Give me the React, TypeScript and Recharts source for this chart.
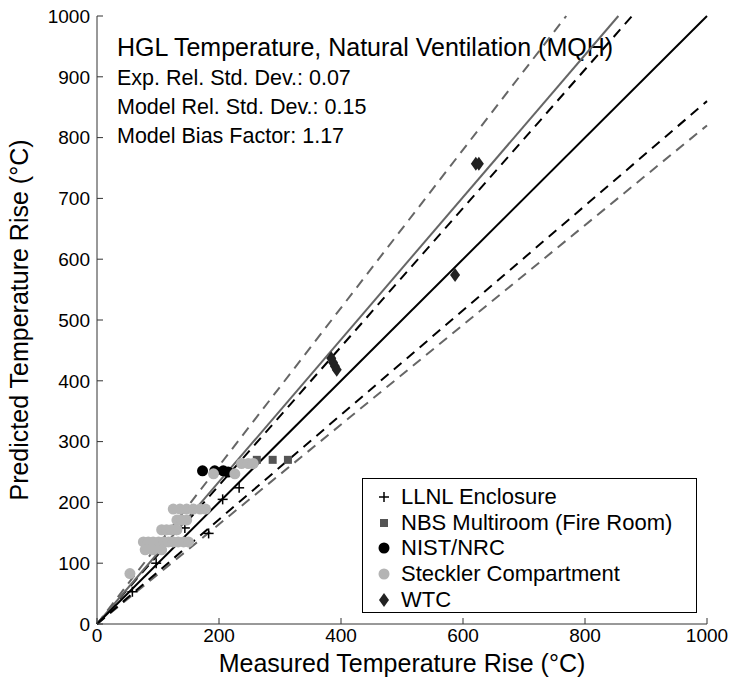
import React from "react";
import { ComposedChart, Scatter, XAxis, YAxis, ReferenceLine, Legend } from "recharts";

// measured vs predicted temperature rise (°C)
const llnl = [
  { x: 58, y: 53 },
  { x: 97, y: 100 },
  { x: 144, y: 158 },
  { x: 183, y: 149 },
  { x: 206, y: 205 },
  { x: 233, y: 224 },
];
const nbs = [
  { x: 262, y: 270 },
  { x: 288, y: 270 },
  { x: 313, y: 270 },
];
const nist = [
  { x: 173, y: 252 },
  { x: 193, y: 252 },
  { x: 207, y: 252 },
  { x: 215, y: 250 },
];
const steckler = [
  { x: 54, y: 83 },
  { x: 125, y: 189 }, { x: 136, y: 189 }, { x: 147, y: 189 }, { x: 158, y: 189 }, { x: 169, y: 189 }, { x: 178, y: 189 },
  { x: 131, y: 171 }, { x: 139, y: 171 }, { x: 147, y: 171 },
  { x: 106, y: 155 }, { x: 114, y: 155 }, { x: 122, y: 155 }, { x: 131, y: 155 },
  { x: 76, y: 135 }, { x: 84, y: 135 }, { x: 92, y: 135 }, { x: 101, y: 135 }, { x: 109, y: 135 },
  { x: 117, y: 135 }, { x: 125, y: 135 }, { x: 133, y: 135 }, { x: 142, y: 135 }, { x: 150, y: 135 },
  { x: 79, y: 122 }, { x: 92, y: 122 }, { x: 106, y: 122 },
  { x: 191, y: 247 }, { x: 226, y: 247 },
  { x: 237, y: 264 }, { x: 248, y: 264 }, { x: 256, y: 264 },
];
const wtc = [
  { x: 621, y: 757 },
  { x: 626, y: 757 },
  { x: 587, y: 574 },
  { x: 384, y: 437 },
  { x: 387, y: 430 },
  { x: 390, y: 424 },
  { x: 393, y: 418 },
];

const xTicks = [0, 200, 400, 600, 800, 1000];
const yTicks = [0, 100, 200, 300, 400, 500, 600, 700, 800, 900, 1000];

const exactSlope = 1;
const biasSlope = 1.17;
const expBand = [0.86, 1.14];
const modelBand = [0.82, 1.3];

const notes = [
  "Exp. Rel. Std. Dev.: 0.07",
  "Model Rel. Std. Dev.: 0.15",
  "Model Bias Factor: 1.17",
];

const seg = (s: number) => {
  const end = s >= 1 ? { x: 1000 / s, y: 1000 } : { x: 1000, y: 1000 * s };
  return [{ x: 0, y: 0 }, end];
};

const FONT = "'Liberation Sans', Arial, Helvetica, sans-serif";
const AXIS = "#333";

const Plus = (p: any) => (
  <g stroke="#000" strokeWidth={1.5}>
    <line x1={p.cx - 5} x2={p.cx + 5} y1={p.cy} y2={p.cy} />
    <line x1={p.cx} x2={p.cx} y1={p.cy - 5} y2={p.cy + 5} />
  </g>
);
const Square = (p: any) => <rect x={p.cx - 4} y={p.cy - 4} width={8} height={8} fill="#555" />;
const Dot = (color: string) => (p: any) => <circle cx={p.cx} cy={p.cy} r={5.5} fill={color} />;
const Diamond = (p: any) => (
  <polygon
    points={`${p.cx},${p.cy - 7} ${p.cx + 5},${p.cy} ${p.cx},${p.cy + 7} ${p.cx - 5},${p.cy}`}
    fill="#222"
  />
);

const series = [
  { name: "LLNL Enclosure", data: llnl, shape: Plus },
  { name: "NBS Multiroom (Fire Room)", data: nbs, shape: Square },
  { name: "NIST/NRC", data: nist, shape: Dot("#000") },
  { name: "Steckler Compartment", data: steckler, shape: Dot("#b4b4b4") },
  { name: "WTC", data: wtc, shape: Diamond },
];

const LegendBox = () => (
  <div
    style={{
      boxSizing: "border-box",
      width: 335,
      height: 135,
      border: "1px solid #000",
      background: "#fff",
      padding: "5px 0 0 10px",
      fontFamily: FONT,
      fontSize: 22,
      color: "#000",
    }}
  >
    {series.map((s) => (
      <div key={s.name} style={{ display: "flex", alignItems: "center", height: 25.7, whiteSpace: "nowrap" }}>
        <svg width={24} height={20} style={{ marginRight: 4, flex: "none" }}>
          {s.shape({ cx: 11, cy: 10 })}
        </svg>
        <span>{s.name}</span>
      </div>
    ))}
  </div>
);

export default function App() {
  return (
    <div style={{ position: "absolute", left: 0, top: 0, fontFamily: FONT, background: "#fff" }}>
      <ComposedChart width={731} height={683} margin={{ top: 16, right: 24, bottom: 29, left: 37 }}>
        <XAxis
          xAxisId="b"
          type="number"
          dataKey="x"
          domain={[0, 1000]}
          ticks={xTicks}
          allowDataOverflow
          height={30}
          tickSize={-6}
          tickMargin={11}
          stroke={AXIS}
          tick={{ fill: "#000", fontSize: 19 }}
          label={{
            content: (props: any) => {
              const vb = props.viewBox;
              return (
                <text x={vb.x + vb.width / 2} y={vb.y + 48} textAnchor="middle" fontSize={25} fill="#000">
                  Measured Temperature Rise (°C)
                </text>
              );
            },
          }}
        />
        <XAxis
          xAxisId="t"
          orientation="top"
          type="number"
          domain={[0, 1000]}
          ticks={xTicks}
          height={0}
          tickSize={-6}
          tick={false}
          stroke={AXIS}
        />
        <YAxis
          yAxisId="l"
          type="number"
          dataKey="y"
          domain={[0, 1000]}
          ticks={yTicks}
          allowDataOverflow
          width={60}
          tickSize={-6}
          tickMargin={13}
          stroke={AXIS}
          tick={{ fill: "#000", fontSize: 19 }}
          label={{
            content: (props: any) => {
              const vb = props.viewBox;
              const cx = vb.x - 9;
              const cy = vb.y + vb.height / 2;
              return (
                <text x={cx} y={cy} textAnchor="middle" fontSize={25} fill="#000" transform={`rotate(-90 ${cx} ${cy})`}>
                  Predicted Temperature Rise (°C)
                </text>
              );
            },
          }}
        />
        <YAxis
          yAxisId="r"
          orientation="right"
          type="number"
          domain={[0, 1000]}
          ticks={yTicks}
          width={0}
          tickSize={-6}
          tick={false}
          stroke={AXIS}
        />

        {series.map((s) => (
          <Scatter
            key={s.name}
            name={s.name}
            data={s.data}
            xAxisId="b"
            yAxisId="l"
            shape={s.shape}
            isAnimationActive={false}
          />
        ))}

        {modelBand.map((m) => (
          <ReferenceLine key={"m" + m} xAxisId="b" yAxisId="l" segment={seg(m)} stroke="#666" strokeWidth={2} strokeDasharray="10 7" />
        ))}
        {expBand.map((m) => (
          <ReferenceLine key={"e" + m} xAxisId="b" yAxisId="l" segment={seg(m)} stroke="#000" strokeWidth={2} strokeDasharray="10 7" />
        ))}
        <ReferenceLine xAxisId="b" yAxisId="l" segment={seg(biasSlope)} stroke="#666" strokeWidth={2} />
        <ReferenceLine xAxisId="b" yAxisId="l" segment={seg(exactSlope)} stroke="#000" strokeWidth={2} />

        <text x={117} y={56} fontSize={25} fill="#000">
          HGL Temperature, Natural Ventilation (MQH)
        </text>
        {notes.map((n, i) => (
          <text key={n} x={117} y={85 + i * 29} fontSize={21.5} fill="#000">
            {n}
          </text>
        ))}

        <Legend
          layout="horizontal"
          verticalAlign="middle"
          align="center"
          content={<LegendBox />}
          wrapperStyle={{ left: 362, top: 478, width: 335, height: 135 }}
        />
      </ComposedChart>
    </div>
  );
}
